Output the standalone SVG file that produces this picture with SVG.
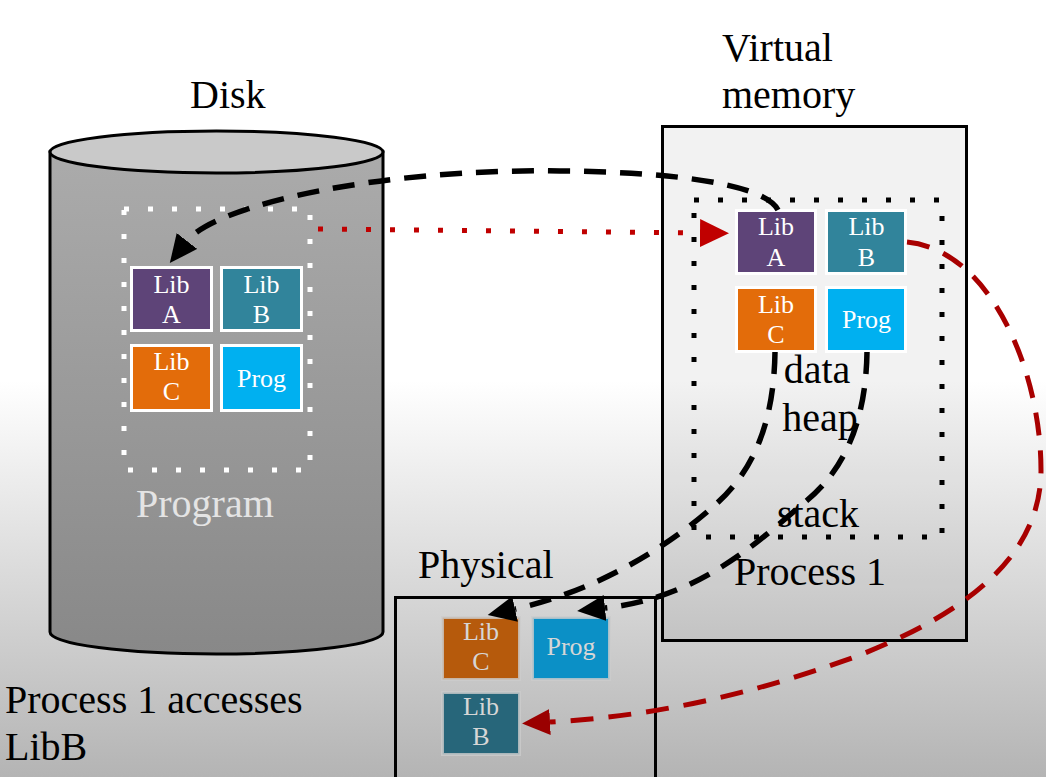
<svg xmlns="http://www.w3.org/2000/svg" width="1046" height="777" viewBox="0 0 1046 777">
<defs>
<linearGradient id="bg" x1="0" y1="0" x2="0" y2="1"><stop offset="0.49" stop-color="#ffffff"/><stop offset="1" stop-color="#b4b4b4"/></linearGradient>
<linearGradient id="cyl" x1="0" y1="0" x2="0" y2="1"><stop offset="0" stop-color="#ababab"/><stop offset="1" stop-color="#888888"/></linearGradient>
<marker id="ahBlack" markerUnits="userSpaceOnUse" markerWidth="30" markerHeight="26" refX="0" refY="13" orient="auto"><path d="M0,0 L28,13 L0,26 z" fill="#000"/></marker>
<marker id="ahRed" markerUnits="userSpaceOnUse" markerWidth="30" markerHeight="28" refX="0" refY="14" orient="auto"><path d="M0,0 L29,14 L0,28 z" fill="#c00000"/></marker>
<marker id="ahDarkRed" markerUnits="userSpaceOnUse" markerWidth="30" markerHeight="26" refX="0" refY="13" orient="auto"><path d="M0,0 L28,13 L0,26 z" fill="#9a0000"/></marker>
</defs>
<style>
text{font-family:"Liberation Serif","Times New Roman",serif}
.big{font-size:40px;fill:#000}
.lib{font-size:26px;fill:#ffffff;text-anchor:middle}
.plib{font-size:26px;fill:#d6d6d6;text-anchor:middle}
.box{stroke:#ffffff;stroke-width:3}
.pbox{stroke:#cccccc;stroke-width:3;stroke-opacity:0.8}
.frame{fill:none;stroke:#000;stroke-width:3}
.dotsW{fill:none;stroke:#ffffff;stroke-width:5;stroke-dasharray:5 19}
.dotsK{fill:none;stroke:#000;stroke-width:5;stroke-dasharray:5 19}
.dashK{fill:none;stroke:#000;stroke-width:5.5;stroke-dasharray:22 14}
.dashR{fill:none;stroke:#a80000;stroke-width:5;stroke-dasharray:23 15}
.dotR{fill:none;stroke:#c00000;stroke-width:5;stroke-dasharray:5 19}
.cA{fill:#5e4478}.cB{fill:#31849b}.cC{fill:#e36c0a}.cP{fill:#00b0f0}
</style>
<rect x="0" y="0" width="1046" height="777" fill="url(#bg)"/>

<g id="disk">
<path d="M 50 152 V 632 A 166.5 22 0 0 0 383 632 V 152 Z" fill="url(#cyl)" stroke="#000" stroke-width="3"/>
<ellipse cx="216.5" cy="152" rx="166.5" ry="21" fill="#c9c9c9" stroke="#000" stroke-width="3"/>
<text class="big" x="190" y="108">Disk</text>
<rect class="dotsW" x="124" y="209" width="186" height="261"/>
<text x="136" y="517" font-size="40" fill="#e4e4e4">Program</text>
</g>
<g id="disk-libA"><rect class="box cA" x="131.5" y="267.5" width="80" height="63"/><text class="lib" x="171.5" y="293">Lib</text><text class="lib" x="171.5" y="323">A</text></g>
<g id="disk-libB"><rect class="box cB" x="221.5" y="267.5" width="80" height="63"/><text class="lib" x="261.5" y="293">Lib</text><text class="lib" x="261.5" y="323">B</text></g>
<g id="disk-libC"><rect class="box cC" x="131.5" y="345.5" width="80" height="65"/><text class="lib" x="171.5" y="370">Lib</text><text class="lib" x="171.5" y="400">C</text></g>
<g id="disk-prog"><rect class="box cP" x="221.5" y="345.5" width="80" height="65"/><text class="lib" x="261.5" y="387">Prog</text></g>

<g id="virtual">
<rect x="662.5" y="126.5" width="304" height="514" fill="#000" fill-opacity="0.05" stroke="#000" stroke-width="3"/>
<text class="big" x="722" y="61">Virtual</text>
<text class="big" x="722" y="108">memory</text>
<rect class="dotsK" x="694" y="200" width="248" height="337"/>
<text class="big" x="817" y="383" text-anchor="middle">data</text>
<text class="big" x="820" y="431" text-anchor="middle">heap</text>
<text class="big" x="818" y="527" text-anchor="middle">stack</text>
<text class="big" x="810" y="585" text-anchor="middle">Process 1</text>
</g>
<g id="v-libA"><rect class="box cA" x="736.5" y="210.5" width="79" height="63"/><text class="lib" x="776" y="235">Lib</text><text class="lib" x="776" y="266">A</text></g>
<g id="v-libB"><rect class="box cB" x="826.5" y="210.5" width="79" height="63"/><text class="lib" x="866.5" y="235">Lib</text><text class="lib" x="866.5" y="266">B</text></g>
<g id="v-libC"><rect class="box cC" x="736.5" y="287.5" width="79" height="64"/><text class="lib" x="776" y="313">Lib</text><text class="lib" x="776" y="343">C</text></g>
<g id="v-prog"><rect class="box cP" x="826.5" y="287.5" width="79" height="64"/><text class="lib" x="866.5" y="328">Prog</text></g>

<g id="physical">
<path d="M 395.5 777 V 597.5 H 662 M 655.5 597.5 V 777" class="frame"/>
<text class="big" x="418" y="578">Physical</text>
</g>
<g id="p-libC"><rect class="pbox" x="442.5" y="617.5" width="77" height="62" fill="#b65a0c"/><text class="plib" x="481" y="640">Lib</text><text class="plib" x="481" y="670">C</text></g>
<g id="p-prog"><rect class="pbox" x="532.5" y="617.5" width="77" height="62" fill="#0b90c6"/><text class="plib" x="571" y="655">Prog</text></g>
<g id="p-libB"><rect class="pbox" x="442.5" y="692.5" width="77" height="62" fill="#27667a"/><text class="plib" x="481" y="715">Lib</text><text class="plib" x="481" y="745">B</text></g>

<g id="caption">
<text class="big" x="5" y="713">Process 1 accesses</text>
<text class="big" x="5" y="760">LibB</text>
</g>

<g id="connectors">
<path class="dashK" d="M 778 210 C 765 185, 680 172, 560 171 C 380 168, 215 205, 187 241" marker-end="url(#ahBlack)"/>
<path class="dotR" d="M 318 229 L 700 233" marker-end="url(#ahRed)"/>
<path class="dashK" d="M 775 352 C 774 420, 755 470, 715 505 C 670 545, 600 590, 515 609" marker-end="url(#ahBlack)"/>
<path class="dashK" d="M 867 352 C 866 420, 845 470, 805 502 C 760 540, 700 598, 605 608" marker-end="url(#ahBlack)"/>
<path class="dashR" d="M 907 242 C 990 250, 1041 370, 1041 470 C 1041 560, 960 615, 860 655 C 760 692, 660 716, 550 722" marker-end="url(#ahDarkRed)"/>
</g>
</svg>
